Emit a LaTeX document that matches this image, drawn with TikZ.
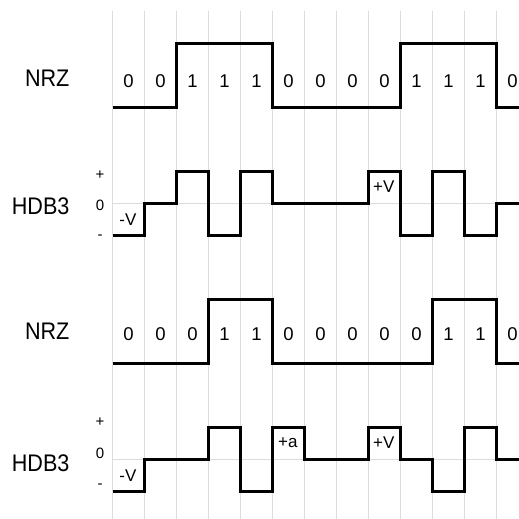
\documentclass[tikz,border=0pt]{standalone}
\usepackage{fontspec}
\newfontfamily\sigfont[FakeStretch=0.9]{Liberation Sans}
\newfontfamily\bitfont{Liberation Sans}
\definecolor{gridgray}{RGB}{220,220,220}
\tikzset{
  wave/.style={line width=3pt},
  gridline/.style={gridgray,line width=1pt},
  signame/.style={font=\sigfont\fontsize{24}{24}\selectfont,anchor=east,inner sep=0pt},
  bit/.style={font=\bitfont\fontsize{18.5}{18.5}\selectfont,inner sep=0pt},
  level/.style={font=\bitfont\fontsize{15}{15}\selectfont,inner sep=0pt},
  viol/.style={font=\bitfont\fontsize{17}{17}\selectfont,inner sep=0pt},
}

\begin{document}
\begin{tikzpicture}[x=32pt,y=32pt]
\useasboundingbox (-3.516,-9.875) rectangle (12.703,6.344);
% grid
\foreach \i in {0,...,12}
  \draw[gridline] (\i,6) -- (\i,-9.875);
\draw[gridline] (0,0) -- (12.703,0);
\draw[gridline] (0,-8) -- (12.703,-8);

% first NRZ
\node[signame] (nrza) at (-1.34,3.9) {NRZ};
\foreach \b [count=\i from 0] in {0,0,1,1,1,0,0,0,0,1,1,1,0}
  \node[bit] (bita\i) at (\i+0.5,3.81) {\b};
\draw[wave] (0,3) -- (2,3) -- (2,5) -- (5,5) -- (5,3) -- (9,3) -- (9,5) -- (12,5) -- (12,3) -- (12.703,3);

% first HDB3
\node[signame] (hdba) at (-1.34,-0.1) {HDB3};
\node[level] (pa) at (-0.39,0.875) {+};
\node[level] (za) at (-0.39,-0.06) {0};
\node[level] (ma) at (-0.39,-1.07) {-};
\draw[wave] (0,-1) -- (1,-1) -- (1,0) -- (2,0) -- (2,1) -- (3,1) -- (3,-1) -- (4,-1) -- (4,1) -- (5,1) -- (5,0)
  -- (8,0) -- (8,1) -- (9,1) -- (9,-1) -- (10,-1) -- (10,1) -- (11,1) -- (11,-1) -- (12,-1) -- (12,0) -- (12.703,0);
\node[viol] (va) at (0.48,-0.53) {-V};
\node[viol] (vb) at (8.48,0.5) {+V};

% second NRZ
\node[signame] (nrzb) at (-1.34,-4.0) {NRZ};
\foreach \b [count=\i from 0] in {0,0,0,1,1,0,0,0,0,0,1,1,0}
  \node[bit] (bitb\i) at (\i+0.5,-4.09) {\b};
\draw[wave] (0,-5) -- (3,-5) -- (3,-3) -- (5,-3) -- (5,-5) -- (10,-5) -- (10,-3) -- (12,-3) -- (12,-5) -- (12.703,-5);

% second HDB3
\node[signame] (hdbb) at (-1.34,-8.12) {HDB3};
\node[level] (pb) at (-0.39,-6.85) {+};
\node[level] (zb) at (-0.39,-7.82) {0};
\node[level] (mb) at (-0.39,-8.84) {-};
\draw[wave] (0,-9) -- (1,-9) -- (1,-8) -- (3,-8) -- (3,-7) -- (4,-7) -- (4,-9) -- (5,-9) -- (5,-7) -- (6,-7) -- (6,-8)
  -- (8,-8) -- (8,-7) -- (9,-7) -- (9,-8) -- (10,-8) -- (10,-9) -- (11,-9) -- (11,-7) -- (12,-7) -- (12,-8) -- (12.703,-8);
\node[viol] (vc) at (0.48,-8.52) {-V};
\node[viol] (vd) at (5.48,-7.5) {+a};
\node[viol] (ve) at (8.48,-7.5) {+V};
\end{tikzpicture}
\end{document}
